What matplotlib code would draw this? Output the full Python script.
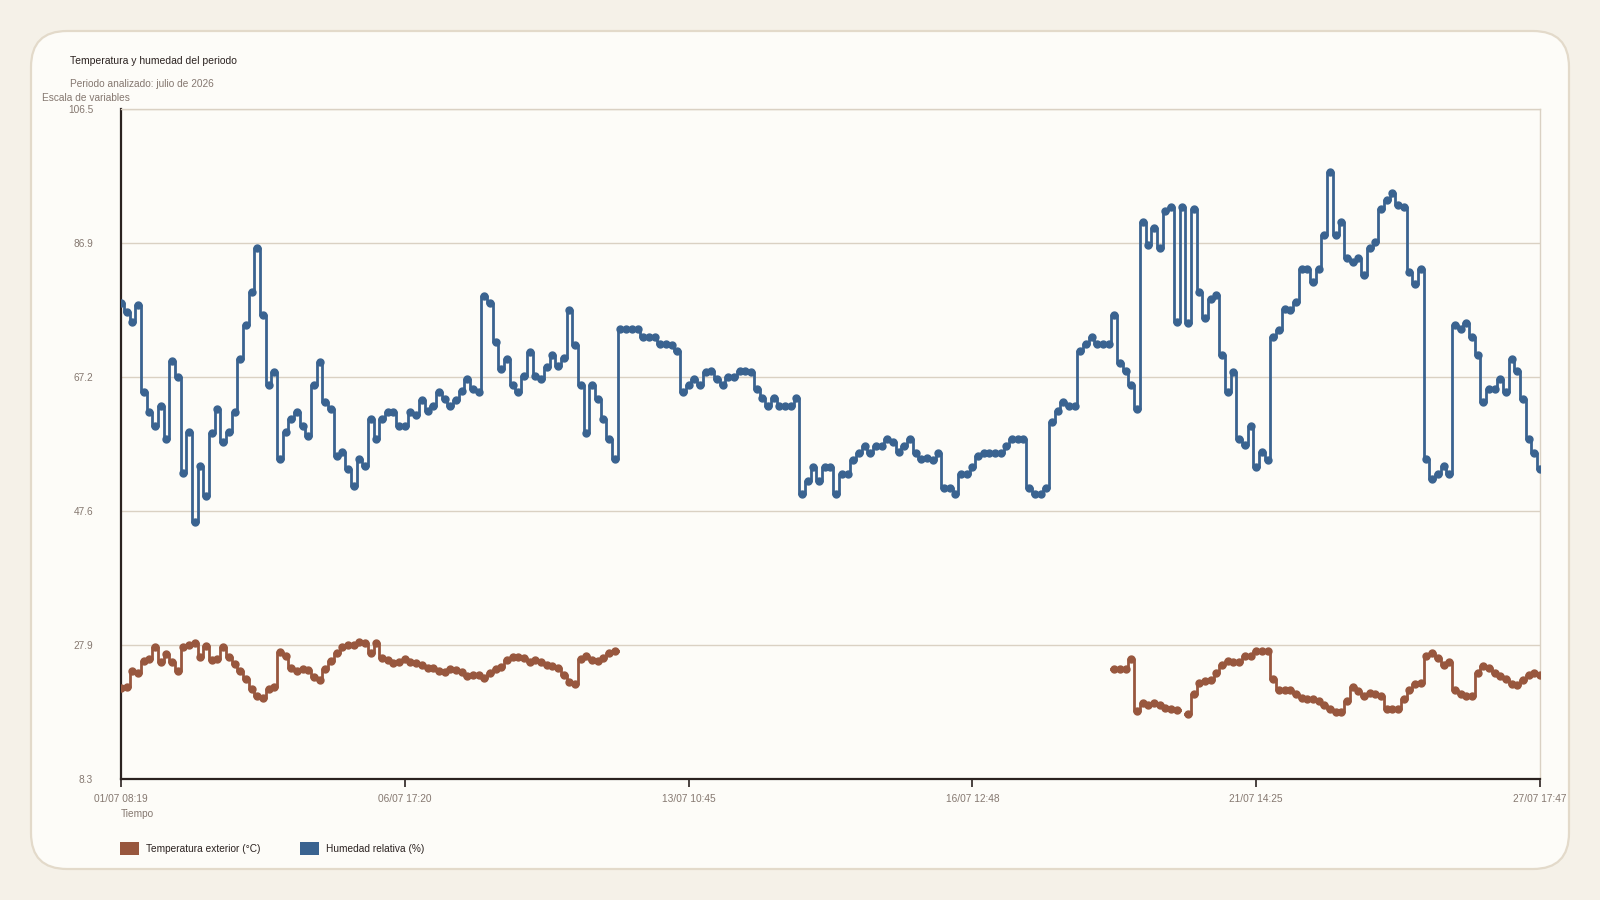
"""
Temperatura y humedad del periodo - step-like time series on index axis.
"""
import numpy as np
import matplotlib
matplotlib.use('Agg')  # Non-interactive backend
import matplotlib.pyplot as plt
from matplotlib.patches import FancyBboxPatch, Rectangle

# ============================================================
# Data (one value per sample)
# ============================================================
x_tick_labels = ['01/07 08:19', '06/07 17:20', '13/07 10:45',
                 '16/07 12:48', '21/07 14:25', '27/07 17:47']
y_ticks = [8.3, 27.9, 47.6, 67.2, 86.9, 106.5]

humidity = [
    78.1, 76.8, 75.3, 77.7, 65.0, 62.1, 60.1, 63.0, 58.1, 69.5,
    67.2, 53.2, 59.1, 46.0, 54.2, 49.8, 59.0, 62.5, 57.7, 59.1,
    62.1, 69.9, 74.8, 79.7, 86.2, 76.3, 66.0, 67.9, 55.2, 59.1,
    61.1, 62.1, 60.1, 58.6, 66.1, 69.4, 63.5, 62.5, 55.7, 56.2,
    53.7, 51.3, 55.2,
    54.2, 61.1, 58.1, 61.1, 62.1, 62.1, 60.1, 60.1, 62.1, 61.6,
    63.8, 62.3, 63.0, 65.0, 64.0, 63.0, 63.8, 65.1, 67.0, 65.5,
    65.0, 79.1, 78.1, 72.3, 68.4, 69.9, 66.0, 65.0, 67.4, 70.9,
    67.4, 67.0, 68.7, 70.4, 68.9, 70.0, 77.1, 71.9, 66.0, 59.0,
    66.0, 64.0,
    61.1, 58.1, 55.2, 74.2, 74.2, 74.2, 74.2, 73.1, 73.1, 73.1,
    72.1, 72.1, 71.9, 71.0, 65.0, 66.0, 67.0, 66.0, 67.9, 68.1,
    67.0, 66.0, 67.2, 67.2, 68.1, 68.1, 67.9, 65.5, 64.1, 63.0,
    64.1, 63.0, 63.0, 63.0, 64.1, 50.1, 52.0, 54.0, 52.0, 54.0,
    54.0, 50.1, 53.0, 53.0,
    55.0, 56.1, 57.1, 56.1, 57.1, 57.1, 58.1, 57.7, 56.2, 57.1,
    58.1, 56.1, 55.2, 55.4, 55.0, 56.1, 51.0, 51.0, 50.1, 53.0,
    53.0, 54.0, 55.7, 56.1, 56.1, 56.1, 56.1, 57.1, 58.1, 58.1,
    58.1, 51.0, 50.1, 50.1, 51.0, 60.6, 62.3, 63.5, 63.0, 63.0,
    71.1, 72.1, 73.1, 72.1, 72.1, 72.1, 76.3, 69.2, 68.1, 66.0,
    62.5, 90.0, 86.6, 89.1, 86.2, 91.5, 92.2, 75.3, 92.2, 75.2,
    91.9, 79.7, 75.8, 78.7, 79.2, 70.4, 65.0, 67.9, 58.1, 57.2,
    60.1, 54.0, 56.2, 55.0, 73.1, 74.1, 77.2, 77.0, 78.2, 83.1,
    83.1, 81.2, 83.1, 88.0,
    97.2, 88.0, 90.0, 84.6, 84.1, 84.6, 82.1, 86.1, 87.0, 91.9,
    93.2, 94.2, 92.4, 92.2, 82.6, 80.9, 83.1, 55.2, 52.3, 53.0,
    54.2, 53.0, 74.8, 74.3, 75.2, 73.1, 70.4, 63.5, 65.5, 65.5,
    67.0, 65.0, 69.9, 68.1, 64.0, 58.1, 56.1, 53.7,
]

# temperature: first block from sample 0, second block from sample 175
temp_first = [
    21.7, 21.8, 24.1, 23.9, 25.6, 25.9, 27.6, 25.4, 26.6, 25.5,
    24.1, 27.6, 28.0, 28.3, 26.2, 27.8, 25.8, 25.9, 27.6, 26.2,
    25.2, 24.1, 22.9, 21.5, 20.4, 20.2, 21.5, 21.8, 26.9, 26.3,
    24.5, 24.1, 24.4, 24.3, 23.3, 22.8, 24.4, 25.6, 26.8, 27.6,
    28.0, 28.0, 28.4, 28.3, 26.8, 28.3, 26.0, 25.8, 25.3, 25.5,
    25.9, 25.5, 25.3, 25.0, 24.6, 24.5, 24.2, 24.0, 24.4, 24.3,
    24.0, 23.4, 23.6, 23.6, 23.1, 23.8, 24.4, 24.7, 25.8, 26.2,
    26.2, 26.0, 25.4, 25.7, 25.4, 25.0, 24.8, 24.6, 23.6, 22.5,
    22.2, 25.9, 26.4, 25.8, 25.6, 26.1, 26.7, 27.0,
]
temp_second_start = 175
temp_second = [
    24.4, 24.4, 24.4, 25.9, 18.2, 19.5, 19.1, 19.5, 19.1, 18.7,
    18.5, 18.4, np.nan, 17.8, 20.7, 22.4, 22.7, 22.8, 23.9, 25.0,
    25.6, 25.4, 25.5, 26.3, 26.4, 27.1, 27.0, 27.0, 22.9, 21.4,
    21.4, 21.3, 20.7, 20.2, 20.0, 20.0, 19.8, 19.2, 18.5, 18.1,
    18.1, 19.7, 21.8, 21.2, 20.5, 20.9, 20.7, 20.5, 18.6, 18.5,
    18.5, 20.0, 21.4, 22.2, 22.4, 26.3, 26.8, 26.1, 25.0, 25.5,
    21.4, 20.8, 20.5, 20.5, 23.9, 24.9, 24.5, 23.8, 23.4, 22.9,
    22.2, 22.1, 22.8, 23.5, 23.9, 23.5,
]

n = len(humidity)
x = np.arange(n)
temperature = np.full(n, np.nan)
temperature[:len(temp_first)] = temp_first
temperature[temp_second_start:temp_second_start + len(temp_second)] = temp_second

# ============================================================
# Style Configuration
# ============================================================
plt.rcParams.update({
    'font.family': ['Liberation Sans', 'DejaVu Sans'],
    'font.size': 7,
})

COLORS = {
    'page': '#F5F1E8',
    'card': '#FDFCF8',
    'card_edge': '#E3DACA',
    'grid': '#DAD1C3',
    'axis': '#2B2220',
    'text': '#2B2220',
    'muted': '#857870',
    'temp': '#98573E',
    'hum': '#3A6390',
}

fig = plt.figure(figsize=(16, 9), dpi=100, facecolor=COLORS['page'])

# background card in pixel coordinates
bg = fig.add_axes([0, 0, 1, 1], zorder=0)
bg.set_xlim(0, 1600)
bg.set_ylim(900, 0)
bg.axis('off')
bg.add_patch(FancyBboxPatch((31, 31), 1538, 838,
                            boxstyle='round,pad=0,rounding_size=36',
                            facecolor=COLORS['card'], edgecolor=COLORS['card_edge'],
                            linewidth=1.6))

bg.text(70, 61, 'Temperatura y humedad del periodo', fontsize=7.5,
        color=COLORS['text'], va='center', ha='left')
bg.text(70, 84, 'Periodo analizado: julio de 2026', fontsize=7.3,
        color=COLORS['muted'], va='center', ha='left')
bg.text(42, 98, 'Escala de variables', fontsize=7.3,
        color=COLORS['muted'], va='center', ha='left')
bg.text(121, 814, 'Tiempo', fontsize=7.3,
        color=COLORS['muted'], va='center', ha='left')

# legend
legend_items = [('Temperatura exterior (°C)', COLORS['temp'], 120),
                ('Humedad relativa (%)', COLORS['hum'], 300)]
for label, col, lx in legend_items:
    bg.add_patch(Rectangle((lx, 842), 19, 13, facecolor=col, edgecolor='none'))
    bg.text(lx + 26, 848.5, label, fontsize=7.3, color=COLORS['text'],
            va='center', ha='left')

# ============================================================
# Main chart
# ============================================================
ax = fig.add_axes([121 / 1600, 1 - 779 / 900, 1419 / 1600, 670 / 900], zorder=1)
ax.set_facecolor('none')

ax.plot(x, humidity, '-o', color=COLORS['hum'], linewidth=2.0,
        markersize=5.0, drawstyle='steps-mid', zorder=3)
ax.plot(x, temperature, '-o', color=COLORS['temp'], linewidth=2.0,
        markersize=5.0, drawstyle='steps-mid', zorder=3)

ax.set_xlim(0, n - 1)
ax.set_ylim(y_ticks[0], y_ticks[-1])
ax.set_yticks(y_ticks)
ax.set_yticklabels([f'{v:.1f}' for v in y_ticks])
ax.set_xticks(np.linspace(0, n - 1, len(x_tick_labels)))
ax.set_xticklabels(x_tick_labels)

ax.grid(axis='y', color=COLORS['grid'], linewidth=1.0)
ax.set_axisbelow(True)

ax.tick_params(axis='y', length=0, pad=20, labelsize=7.3, labelcolor=COLORS['muted'])
ax.tick_params(axis='x', length=6, width=1.2, color=COLORS['axis'], pad=5,
               labelsize=7.3, labelcolor=COLORS['muted'])

for side in ['left', 'bottom']:
    ax.spines[side].set_color(COLORS['axis'])
    ax.spines[side].set_linewidth(1.6)
for side in ['top', 'right']:
    ax.spines[side].set_color(COLORS['grid'])
    ax.spines[side].set_linewidth(1.0)

plt.savefig('out.png', dpi=100, facecolor=COLORS['page'])
plt.close()
print("[OK] Saved: out.png")
